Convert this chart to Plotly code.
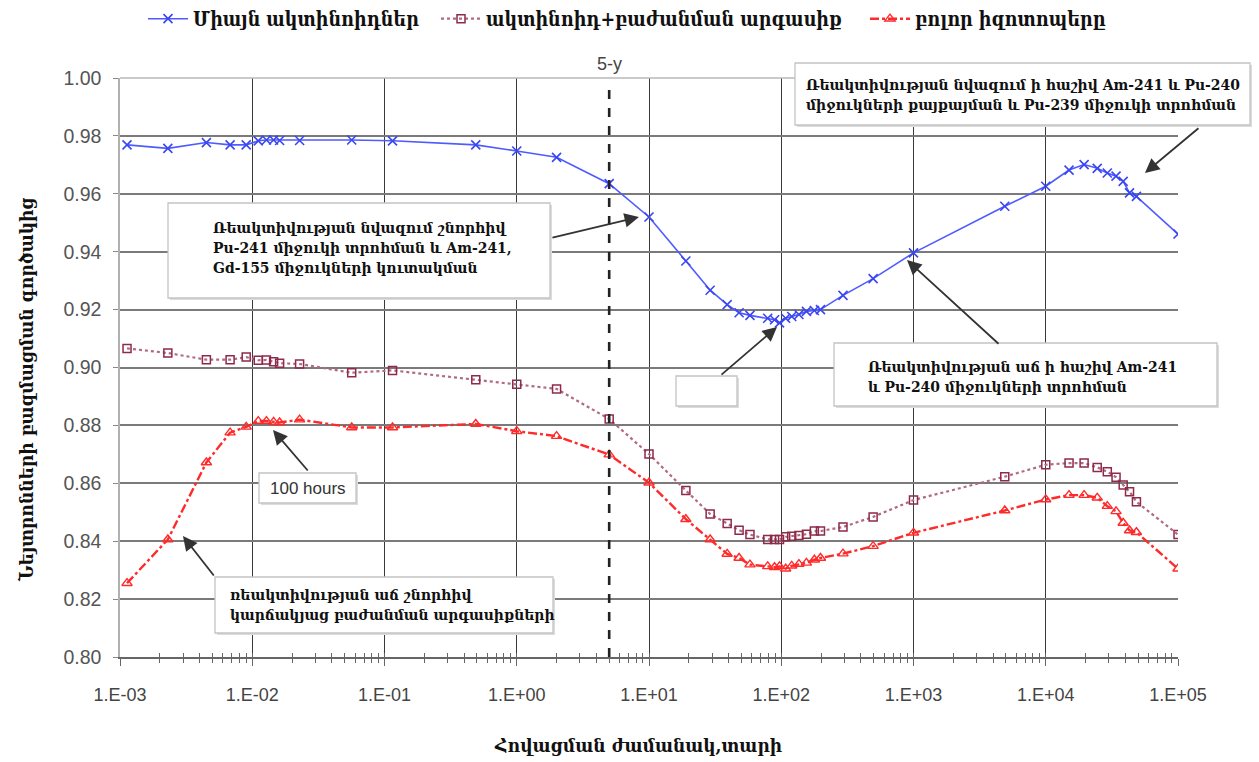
import plotly.graph_objects as go

# Cooling time, years
years = [0.00113, 0.0023, 0.0045, 0.0068, 0.009, 0.0111, 0.0128, 0.0145, 0.0161, 0.0228,
         0.0565, 0.115, 0.49, 1.0, 2.0, 5.0, 10, 19, 29, 39, 48, 58, 79, 89, 97, 108, 120,
         136, 155, 178, 198, 293, 495, 1000, 4900, 10000, 15000, 19500, 24500, 29200,
         34000, 38500, 43000, 48500, 100000]

# Multiplication factor, actinides only
k_actinides = [0.9769, 0.9757, 0.9777, 0.9769, 0.9769, 0.9783, 0.9786, 0.9786, 0.9784, 0.9784,
               0.9786, 0.9783, 0.9769, 0.9748, 0.9726, 0.9635, 0.9520, 0.9368, 0.9267, 0.9217,
               0.9189, 0.9180, 0.9170, 0.9165, 0.9154, 0.9170, 0.9176, 0.9183, 0.9194, 0.9197,
               0.9200, 0.9249, 0.9307, 0.9396, 0.9557, 0.9626, 0.9682, 0.9701, 0.9688, 0.9672,
               0.9661, 0.9643, 0.9603, 0.9591, 0.9461]

# Actinides + fission products
k_act_fp = [0.9066, 0.9050, 0.9027, 0.9027, 0.9036, 0.9025, 0.9026, 0.9020, 0.9015, 0.9012,
            0.8982, 0.8990, 0.8958, 0.8942, 0.8926, 0.8822, 0.8701, 0.8575, 0.8494, 0.8461,
            0.8438, 0.8423, 0.8406, 0.8406, 0.8406, 0.8415, 0.8417, 0.8420, 0.8424, 0.8435,
            0.8435, 0.8449, 0.8484, 0.8542, 0.8623, 0.8664, 0.8670, 0.8670, 0.8655, 0.8640,
            0.8621, 0.8594, 0.8571, 0.8536, 0.8423]

# All isotopes
k_all = [0.8255, 0.8406, 0.8672, 0.8775, 0.8795, 0.8815, 0.8815, 0.8812, 0.8810, 0.8820,
         0.8793, 0.8793, 0.8805, 0.8780, 0.8763, 0.8699, 0.8602, 0.8476, 0.8406, 0.8356,
         0.8342, 0.8319, 0.8313, 0.8310, 0.8313, 0.8305, 0.8315, 0.8321, 0.8325, 0.8336,
         0.8342, 0.8357, 0.8383, 0.8429, 0.8506, 0.8544, 0.8559, 0.8559, 0.8550, 0.8521,
         0.8503, 0.8463, 0.8437, 0.8431, 0.8305]

series_names = ["Միայն ակտինոիդներ", "ակտինոիդ+բաժանման արգասիք", "բոլոր իզոտոպերը"]

x_tick_vals = [1e-3, 1e-2, 1e-1, 1e0, 1e1, 1e2, 1e3, 1e4, 1e5]
x_tick_text = ["1.E-03", "1.E-02", "1.E-01", "1.E+00", "1.E+01", "1.E+02", "1.E+03", "1.E+04", "1.E+05"]
minor_vals = [k * 10.0 ** e for e in range(-3, 5) for k in range(2, 10)]

marker_year = 5.0
marker_label = "5-y"

x_title = "Հովացման ժամանակ,տարի"
y_title = "Նեյտրոնների բազմացման գործակից"

ARM = "DejaVu Serif Condensed"
SANS = "Liberation Sans"
NARROW = "Liberation Sans Narrow, Liberation Sans"

W, H = 1259, 762
L, R, T, B = 120, 81, 78, 105
PW, PH = W - L - R, H - T - B


def px(x):
    return (x - L) / PW


def py(y):
    return (H - B - y) / PH


fig = go.Figure()

fig.add_trace(go.Scatter(
    x=years, y=k_actinides, name=series_names[0], mode="lines+markers", legend="legend",
    line=dict(color="#4d5bff", width=1.6),
    marker=dict(symbol="x-thin", size=9, line=dict(color="#3a46f0", width=1.6)),
))
fig.add_trace(go.Scatter(
    x=years, y=k_act_fp, name=series_names[1], mode="lines+markers", legend="legend2",
    line=dict(color="#b06a82", width=2.2, dash="dot"),
    marker=dict(symbol="square-open", size=8, color="#8e2a4a", line=dict(width=1.5)),
))
fig.add_trace(go.Scatter(
    x=years, y=k_all, name=series_names[2], mode="lines+markers", legend="legend3",
    line=dict(color="#ff2a2a", width=2.4, dash="dashdot"),
    marker=dict(symbol="triangle-up-open", size=9, color="#ff2a2a", line=dict(width=1.4)),
))
# empty trace carrying the overlay axis that draws the inward half of the ticks
fig.add_trace(go.Scatter(x=[None], y=[None], xaxis="x2", showlegend=False, hoverinfo="skip"))

# 5-year marker line
fig.add_shape(type="line", xref="x", yref="paper", x0=marker_year, x1=marker_year,
              y0=0, y1=py(90), line=dict(color="#222", width=2.6, dash="dash"), layer="above")
fig.add_annotation(xref="x", yref="paper", x=0.699, y=py(64), text=marker_label,
                   showarrow=False, xanchor="center", yanchor="middle",
                   font=dict(family=NARROW, size=18, color="#444"))

# light top border
fig.add_shape(type="line", xref="paper", yref="paper", x0=0, x1=1, y0=1, y1=1,
              line=dict(color="#b8b8b8", width=1.6), layer="above")

# text boxes (frame rectangles in pixel-derived paper coordinates)
boxes = [
    (795, 63, 1250, 125),
    (168, 203, 550, 298),
    (834, 343, 1217, 406),
    (676, 376, 737, 406),
    (259, 473, 356, 503),
    (215, 577, 553, 633),
]
for (x0, y0, x1, y1) in boxes:
    fig.add_shape(type="rect", xref="paper", yref="paper",
                  x0=px(x0 + 2), x1=px(x1 + 2), y0=py(y0 + 2), y1=py(y1 + 2),
                  line=dict(width=0), fillcolor="#dcdcdc", layer="above")
    fig.add_shape(type="rect", xref="paper", yref="paper",
                  x0=px(x0), x1=px(x1), y0=py(y0), y1=py(y1),
                  line=dict(color="#c4c4c4", width=1.3), fillcolor="white", layer="above")

box_font = dict(family=ARM, size=15.5, color="#111", weight="bold")
texts = [
    (804, 94.5, "Ռեակտիվության նվազում ի հաշիվ Am-241 և Pu-240<br>միջուկների քայքայման և Pu-239 միջուկի տրոհման"),
    (211, 248, "Ռեակտիվության նվազում շնորհիվ<br>Pu-241 միջուկի տրոհման և Am-241,<br>Gd-155 միջուկների կուտակման"),
    (866, 376.5, "Ռեակտիվության աճ ի հաշիվ Am-241<br>և Pu-240 միջուկների տրոհման"),
    (228, 604, "ռեակտիվության աճ շնորհիվ<br>կարճակյաց բաժանման արգասիքների"),
]
for (tx, ty, txt) in texts:
    fig.add_annotation(xref="paper", yref="paper", x=px(tx), y=py(ty), text=txt,
                       showarrow=False, xanchor="left", yanchor="middle", align="left",
                       font=box_font)
fig.add_annotation(xref="paper", yref="paper", x=px(307.5), y=py(488), text="100 hours",
                   showarrow=False, xanchor="center", yanchor="middle",
                   font=dict(family=SANS, size=17, color="#333"))

# arrows: head in data coordinates (log10 of years), tail as pixel offset
arrows = [
    (4.75, 0.9672, 55, -46),
    (0.924, 0.9520, -88, 21),
    (2.951, 0.9371, 93, 85),
    (1.968, 0.9140, -57, 49),
    (-1.843, 0.8784, 36, 42),
    (-2.524, 0.8418, 32, 41),
]
for (ax_, ay_, dx, dy) in arrows:
    fig.add_annotation(xref="x", yref="y", x=ax_, y=ay_, ax=dx, ay=dy, text="",
                       showarrow=True, arrowhead=2, arrowsize=1.6, arrowwidth=1.8,
                       arrowcolor="#333")

# axis titles
fig.add_annotation(xref="paper", yref="paper", x=px(638), y=py(745), text=x_title,
                   showarrow=False, xanchor="center", yanchor="middle",
                   font=dict(family=ARM, size=19, color="#111", weight="bold"))
fig.add_annotation(xref="paper", yref="paper", x=px(26), y=py(390), text=y_title,
                   showarrow=False, xanchor="center", yanchor="middle", textangle=-90,
                   font=dict(family=ARM, size=19, color="#111", weight="bold"))

legend_font = dict(family=ARM, size=19.5, color="#111", weight="bold")
legend_common = dict(orientation="h", xanchor="left", yanchor="middle", font=legend_font,
                     bgcolor="rgba(0,0,0,0)", itemwidth=40)

fig.update_layout(
    width=W, height=H,
    margin=dict(l=L, r=R, t=T, b=B, autoexpand=False),
    paper_bgcolor="white", plot_bgcolor="white",
    showlegend=True,
    legend=dict(x=px(143), y=py(19), **legend_common),
    legend2=dict(x=px(436), y=py(19), **legend_common),
    legend3=dict(x=px(865), y=py(19), **legend_common),
    xaxis=dict(
        type="log", range=[-3, 5], tickmode="array", tickvals=x_tick_vals, ticktext=x_tick_text,
        showgrid=True, gridcolor="#3a3a3a", gridwidth=1.3,
        showline=True, linecolor="#666", linewidth=1.5,
        ticks="outside", ticklen=7, tickcolor="#666", tickwidth=1.2,
        ticklabelstandoff=14,
        tickfont=dict(family=NARROW, size=18, color="#444"),
        minor=dict(tickmode="array", tickvals=minor_vals, ticks="outside", ticklen=4,
                   tickcolor="#666", tickwidth=1.1, showgrid=False),
        zeroline=False, automargin=False,
    ),
    xaxis2=dict(
        type="log", range=[-3, 5], overlaying="x", anchor="y", side="bottom",
        showgrid=False, showticklabels=False, showline=False, zeroline=False,
        tickmode="array", tickvals=x_tick_vals, ticks="inside", ticklen=4,
        tickcolor="#666", tickwidth=1.2, automargin=False,
        minor=dict(tickmode="array", tickvals=minor_vals, ticks="inside", ticklen=4,
                   tickcolor="#666", tickwidth=1.1, showgrid=False),
    ),
    yaxis=dict(
        range=[0.80, 1.00], dtick=0.02, tick0=0.8, tickformat=".2f",
        showgrid=True, gridcolor="#7a7a7a", gridwidth=1.8,
        showline=True, linecolor="#b0b0b0", linewidth=1.5,
        ticks="outside", ticklen=5, tickcolor="#888",
        ticklabelstandoff=8,
        tickfont=dict(family=SANS, size=19.5, color="#555"),
        zeroline=False, automargin=False,
    ),
)

fig.write_html("out.html")
